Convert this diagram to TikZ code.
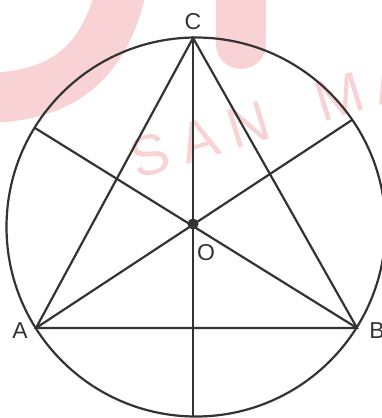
\documentclass[tikz,border=0pt]{standalone}
\usepackage{fontspec}
\setmainfont{Liberation Sans}
\usetikzlibrary{calc}
\definecolor{inkgray}{HTML}{333333}
\definecolor{wmpink}{RGB}{249,210,214}

\begin{document}
\begin{tikzpicture}[
    x=1pt, y=-1pt,
    geo/.style={
        draw=inkgray,
        line width=2.2pt
    },
    lab/.style={
        text=inkgray,
        font=\fontsize{23}{23}\selectfont,
        inner sep=0pt
    },
    wmstroke/.style={
        draw=wmpink,
        line width=50pt,
        line cap=round
    },
    wmtext/.style={
        text=wmpink,
        font=\fontsize{57}{57}\selectfont,
        inner sep=0pt
    }
]
\useasboundingbox (0,0) rectangle (381,418);
% watermark
\draw[wmstroke] (125,-30) .. controls (112,50) and (75,97) .. (-15,98);
\draw[wmstroke] (241,-30) -- (241,44);
\node[wmtext, rotate=17] (wm) at (271,118) {S\hspace{14pt}A\hspace{12pt}N\hspace{51pt}M\hspace{12pt}A};
% points
\coordinate (ctr) at (196,227);
\coordinate (C) at (193,38);
\coordinate (A) at (36,328);
\coordinate (B) at (357,328);
\coordinate (O) at (193,224);
\coordinate (pa) at (352,120);
\coordinate (pb) at (35,128);
\coordinate (pc) at (193,416.5);
% figure
\draw[geo] (ctr) circle (189.5);
\draw[geo, line join=miter] (A) -- (B) -- (C) -- cycle;
\draw[geo] (C) -- (pc);
\draw[geo] (A) -- (pa);
\draw[geo] (B) -- (pb);
\fill[inkgray] (O) circle (5.5);
\node[lab] (labC) at (193,22) {C};
\node[lab] (labA) at (20,331) {A};
\node[lab] (labB) at (377,331) {B};
\node[lab] (labO) at (206,253) {O};
\end{tikzpicture}
\end{document}
